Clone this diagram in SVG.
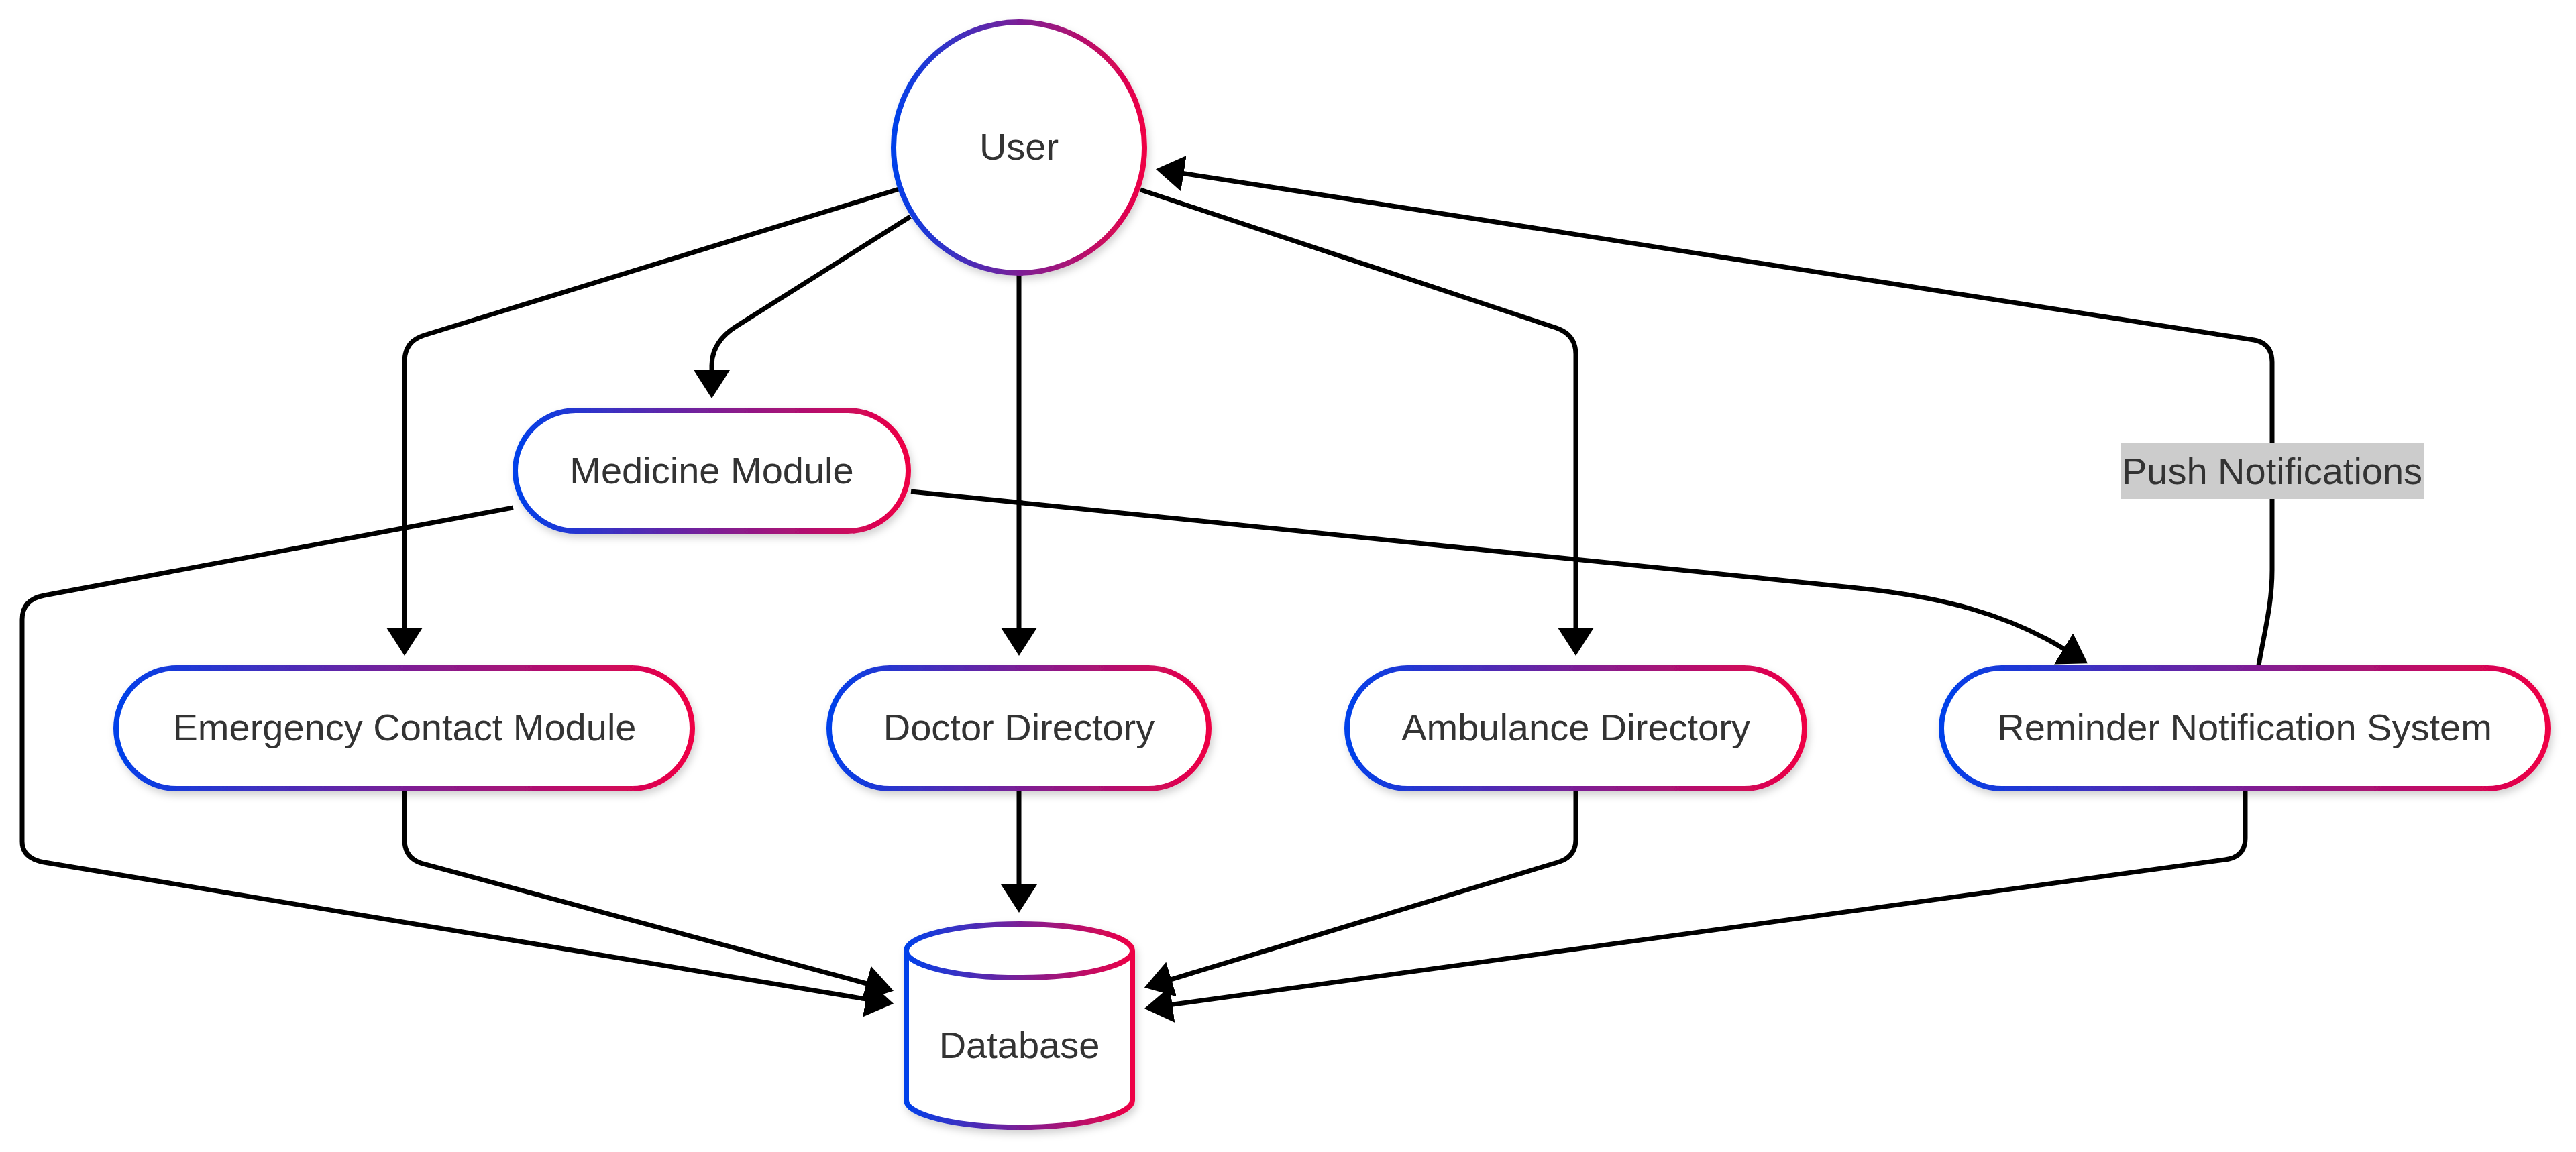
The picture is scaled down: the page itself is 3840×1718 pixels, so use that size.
<svg xmlns="http://www.w3.org/2000/svg" width="3840" height="1718" viewBox="0 0 3840 1718">
  <style>
    .node { fill: #ffffff; stroke: url(#grad); stroke-width: 8; filter: url(#shadow); }
    .edge { fill: none; stroke: #000000; stroke-width: 7; marker-end: url(#arrow); }
    .label { font-family: "Liberation Sans", Arial, sans-serif; font-size: 56px; fill: #333333; text-anchor: middle; }
    .elabel-bg { fill: #cccccc; }
  </style>
  <defs>
    <linearGradient id="grad" x1="0" y1="0" x2="1" y2="0">
      <stop offset="0" stop-color="#0040ea"/>
      <stop offset="0.5" stop-color="#7b1f96"/>
      <stop offset="1" stop-color="#ee0044"/>
    </linearGradient>
    <filter id="shadow" x="-20%" y="-20%" width="140%" height="150%">
      <feDropShadow dx="3" dy="6" stdDeviation="6" flood-color="#000000" flood-opacity="0.18"/>
    </filter>
    <marker id="arrow" markerUnits="userSpaceOnUse" viewBox="0 0 43 54" markerWidth="43" markerHeight="54" refX="1" refY="27" orient="auto">
      <path d="M0,0 L42,27 L0,54 Z" fill="#000000"/>
    </marker>
  </defs>

  <rect width="3840" height="1718" fill="#ffffff"/>

  <g id="connectors">
    <!-- User -> Medicine Module -->
    <path class="edge" d="M1357,323 L1097,487 Q1061,510 1061,545 L1061,553"/>
    <!-- User -> Emergency Contact Module -->
    <path class="edge" d="M1340,282 L632,500 Q603,509 603,540 L603,937"/>
    <!-- User -> Doctor Directory -->
    <path class="edge" d="M1519,410 L1519,937"/>
    <!-- User -> Ambulance Directory -->
    <path class="edge" d="M1700,283 L2320,489 Q2349,499 2349,528 L2349,937"/>
    <!-- Medicine Module -> Reminder Notification System -->
    <path class="edge" d="M1358,733 L2760,876 C2900,890 2995,918 3077,968"/>
    <!-- Reminder Notification System -> User (Push Notifications) -->
    <path class="edge" d="M3367,992 C3376,940 3387,900 3387,850 L3387,540 Q3387,512 3360,507 L1763.5,258.5"/>
    <!-- Medicine Module -> Database -->
    <path class="edge" d="M765,757 L66,888 Q33,894 33,924 L33,1255 Q33,1280 66,1286 L1291.6,1490.1"/>
    <!-- Emergency Contact Module -> Database -->
    <path class="edge" d="M603,1180 L603,1252 Q603,1280 630,1288 L1292.4,1467"/>
    <!-- Doctor Directory -> Database -->
    <path class="edge" d="M1519,1180 L1519,1320"/>
    <!-- Ambulance Directory -> Database -->
    <path class="edge" d="M2349,1180 L2349,1252 Q2349,1278 2322,1286 L1745.2,1460.8"/>
    <!-- Reminder Notification System -> Database -->
    <path class="edge" d="M3347,1180 L3347,1250 Q3347,1278 3317,1282 L1746.6,1498.3"/>
    <g id="edge-label-push">
      <rect class="elabel-bg" x="3161" y="660" width="452" height="84"/>
      <text class="label" x="3387" y="722">Push Notifications</text>
    </g>
  </g>

  <g id="node-user">
    <circle class="node" cx="1519" cy="220" r="187"/>
    <text class="label" x="1519" y="238">User</text>
  </g>

  <g id="node-medicine">
    <rect class="node" x="768" y="612" width="586" height="180" rx="90" ry="90"/>
    <text class="label" x="1061" y="721">Medicine Module</text>
  </g>

  <g id="node-emergency">
    <rect class="node" x="173" y="996" width="859" height="180" rx="90" ry="90"/>
    <text class="label" x="603" y="1104">Emergency Contact Module</text>
  </g>

  <g id="node-doctor">
    <rect class="node" x="1236" y="996" width="566" height="180" rx="90" ry="90"/>
    <text class="label" x="1519" y="1104">Doctor Directory</text>
  </g>

  <g id="node-ambulance">
    <rect class="node" x="2008" y="996" width="682" height="180" rx="90" ry="90"/>
    <text class="label" x="2349" y="1104">Ambulance Directory</text>
  </g>

  <g id="node-reminder">
    <rect class="node" x="2894" y="996" width="904" height="180" rx="90" ry="90"/>
    <text class="label" x="3346" y="1104">Reminder Notification System</text>
  </g>

  <g id="node-database">
    <path class="node" d="M1351,1418 A168.5,40 0 0 1 1688,1418 L1688,1641 A168.5,40 0 0 1 1351,1641 Z"/>
    <path d="M1351,1418 A168.5,40 0 0 0 1688,1418" fill="none" stroke="url(#grad)" stroke-width="8"/>
    <text class="label" x="1519.5" y="1578">Database</text>
  </g>
</svg>
